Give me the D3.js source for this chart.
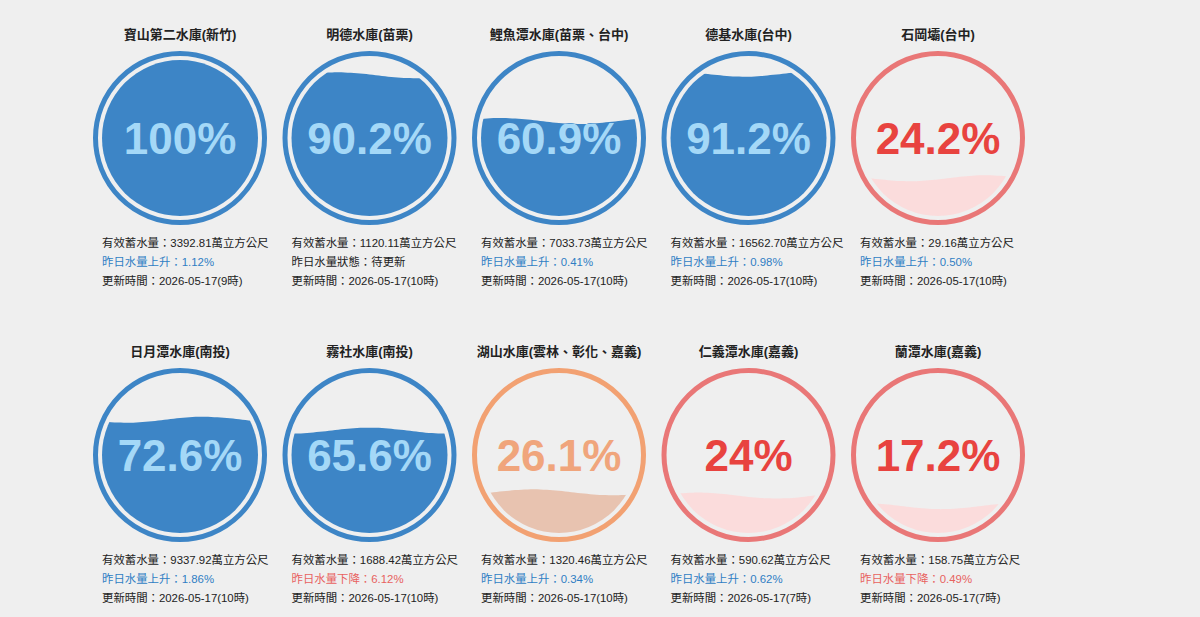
<!DOCTYPE html><html><head><meta charset="utf-8">
<script src="https://cdn.jsdelivr.net/npm/d3@7"></script>
<style>body{margin:0;background:#efefef;font-family:"Liberation Sans","Noto Sans CJK TC",sans-serif;}</style>
</head><body><svg id="c" width="1200" height="617"></svg>
<script>
const names=["寶山第二水庫(新竹)","明德水庫(苗栗)","鯉魚潭水庫(苗栗、台中)","德基水庫(台中)","石岡壩(台中)","日月潭水庫(南投)","霧社水庫(南投)","湖山水庫(雲林、彰化、嘉義)","仁義潭水庫(嘉義)","蘭潭水庫(嘉義)"];
const percents=[100,90.2,60.9,91.2,24.2,72.6,65.6,26.1,24,17.2];
const storage=["3392.81","1120.11","7033.73","16562.70","29.16","9337.92","1688.42","1320.46","590.62","158.75"];
const changeType=["上升","狀態","上升","上升","上升","上升","下降","上升","上升","下降"];
const changeVal=["1.12%","待更新","0.41%","0.98%","0.50%","1.86%","6.12%","0.34%","0.62%","0.49%"];
const updated=["2026-05-17(9時)","2026-05-17(10時)","2026-05-17(10時)","2026-05-17(10時)","2026-05-17(10時)","2026-05-17(10時)","2026-05-17(10時)","2026-05-17(10時)","2026-05-17(7時)","2026-05-17(7時)"];
const themes={blue:{ring:"#3d85c6",fill:"#3d85c6",text:"#3d85c6",wtext:"#a4d8f7"},
 red:{ring:"#e97777",fill:"#fbdcdc",text:"#e8433f",wtext:"#e8433f"},
 orange:{ring:"#f2a172",fill:"#e8c3b0",text:"#f0a57c",wtext:"#f0a57c"}};
function theme(p){return p>=50?themes.blue:(p>=25?themes.orange:themes.red);}
const svg=d3.select("#c");
const colX=d3.scaleLinear().domain([0,4]).range([180,938]);
const rowY=d3.scaleLinear().domain([0,1]).range([138,455]);
const R=87, ringW=5, gap=4, fr=R-ringW-gap;
percents.forEach((p,i)=>{
  const cx=colX(i%5), cy=rowY(Math.floor(i/5)), t=theme(p);
  const g=svg.append("g").attr("transform",`translate(${cx},${cy})`);
  g.append("text").attr("y",-99).attr("text-anchor","middle").attr("font-size",13).attr("font-weight","bold").attr("fill","#222").text(names[i]);
  g.append("circle").attr("r",R-ringW/2).attr("fill","none").attr("stroke",t.ring).attr("stroke-width",ringW);
  const label=(Number.isInteger(p)?p:p.toFixed(1))+"%";
  const fs=44;
  g.append("text").attr("y",16).attr("text-anchor","middle").attr("font-size",fs).attr("font-weight","bold").attr("fill",t.text).text(label);
  const level=d3.scaleLinear().domain([0,100]).range([fr,-fr]);
  const amp=p>=100?0:3, wl=fr*2;
  const pts=d3.range(0,41).map(k=>[-fr-wl*0.3+k*(wl*1.6/40), level(p)+amp*Math.sin(k/40*Math.PI*2*1.6+ i)]);
  const area=d3.area().x(d=>d[0]).y0(fr+5).y1(d=>d[1]).curve(d3.curveBasis);
  const cid="clip"+i;
  g.append("clipPath").attr("id",cid).append("path").attr("d",area(pts));
  const fg=g.append("g").attr("clip-path",`url(#${cid})`);
  fg.append("circle").attr("r",fr).attr("fill",t.fill);
  fg.append("text").attr("y",16).attr("text-anchor","middle").attr("font-size",fs).attr("font-weight","bold").attr("fill",t.wtext).text(label);
  const info=g.append("g").attr("font-size",11.4).attr("fill","#222");
  const x0=-78;
  info.append("text").attr("x",x0).attr("y",109).text("有效蓄水量："+storage[i]+"萬立方公尺");
  const ct=changeType[i];
  info.append("text").attr("x",x0).attr("y",128).attr("fill",ct==="上升"?"#2f7ec4":ct==="下降"?"#e8625f":"#222").text("昨日水量"+ct+"："+changeVal[i]);
  info.append("text").attr("x",x0).attr("y",147).text("更新時間："+updated[i]);
});
</script></body></html>
